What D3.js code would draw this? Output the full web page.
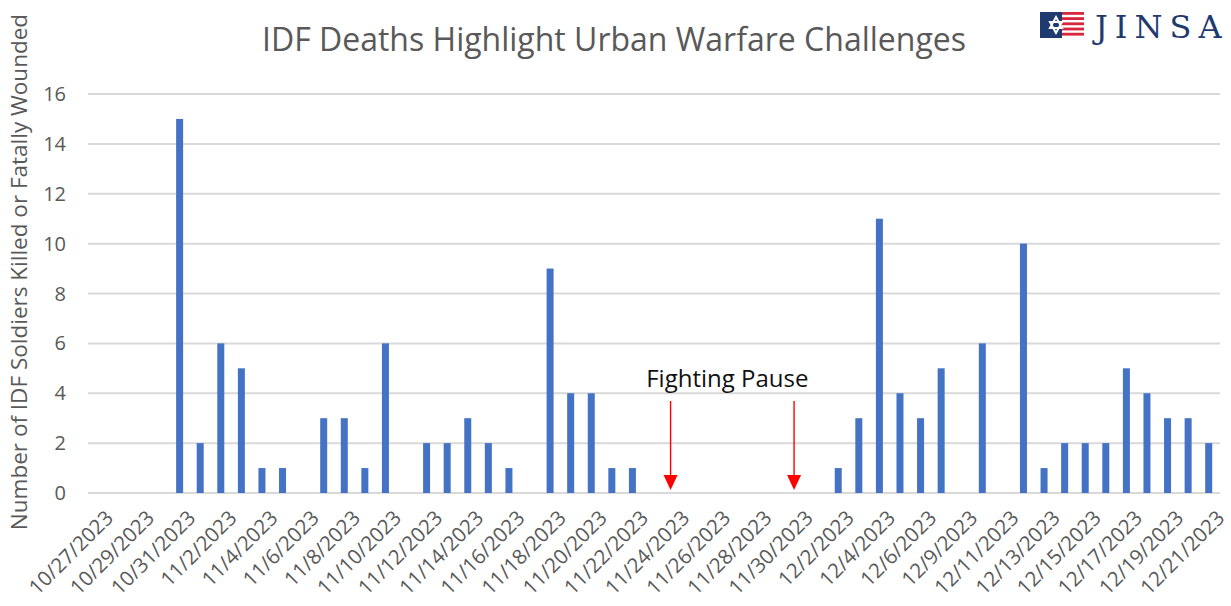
<!DOCTYPE html>
<html>
<head>
<meta charset="utf-8">
<script src="https://cdn.jsdelivr.net/npm/d3@7"></script>
<style>
  body { margin: 0; background: #fff; }
  text { font-family: "Open Sans", "Noto Sans", sans-serif; }
</style>
</head>
<body>
<div id="chart"></div>
<script>
// categories (one date missing between 12/6 and 12/9, as in the source axis)
var dates = ["10/27/2023","10/28/2023","10/29/2023","10/30/2023","10/31/2023","11/1/2023","11/2/2023","11/3/2023",
  "11/4/2023","11/5/2023","11/6/2023","11/7/2023","11/8/2023","11/9/2023","11/10/2023","11/11/2023",
  "11/12/2023","11/13/2023","11/14/2023","11/15/2023","11/16/2023","11/17/2023","11/18/2023","11/19/2023",
  "11/20/2023","11/21/2023","11/22/2023","11/23/2023","11/24/2023","11/25/2023","11/26/2023","11/27/2023",
  "11/28/2023","11/29/2023","11/30/2023","12/1/2023","12/2/2023","12/3/2023","12/4/2023","12/5/2023",
  "12/6/2023","12/8/2023","12/9/2023","12/10/2023","12/11/2023","12/12/2023","12/13/2023","12/14/2023",
  "12/15/2023","12/16/2023","12/17/2023","12/18/2023","12/19/2023","12/20/2023","12/21/2023"];
var deaths = [0,0,0,0,15,2,6,5, 1,1,0,3,3,1,6,0, 2,2,3,2,1,0,9,4, 4,1,1,0,0,0,0,0,
  0,0,0,0,1,3,11,4, 3,5,0,6,0,10,1,2, 2,2,5,4,3,3,2];
var yTicks = [0,2,4,6,8,10,12,14,16];
var pauseDates = ["11/24/2023","11/30/2023"];

var W = 1231, H = 606;
var mLeft = 88, mRight = 1220, mTop = 94, mBottom = 493;

var svg = d3.select("#chart").append("svg")
  .attr("width", W)
  .attr("height", H);

var x = d3.scaleBand().domain(dates).range([mLeft, mRight]);
var y = d3.scaleLinear().domain([0, 16]).range([mBottom, mTop]);

// gridlines
svg.append("g").selectAll("line")
  .data(yTicks)
  .enter().append("line")
  .attr("x1", mLeft).attr("x2", mRight)
  .attr("y1", function(d){ return y(d); })
  .attr("y2", function(d){ return y(d); })
  .style("stroke", "#d9d9d9")
  .style("stroke-width", 2);

// y tick labels
svg.append("g").selectAll("text")
  .data(yTicks)
  .enter().append("text")
  .attr("x", 66)
  .attr("y", function(d){ return y(d) + 7; })
  .attr("text-anchor", "end")
  .attr("font-size", 20)
  .style("fill", "#595959")
  .text(function(d){ return d; });

// bars
var bw = 7;
svg.append("g").selectAll("rect")
  .data(dates.map(function(d, i){ return { date: d, v: deaths[i] }; }).filter(function(d){ return d.v > 0; }))
  .enter().append("rect")
  .attr("x", function(d){ return x(d.date) + x.bandwidth() / 2 - bw / 2 - 1; })
  .attr("y", function(d){ return y(d.v); })
  .attr("width", bw)
  .attr("height", function(d){ return y(0) - y(d.v); })
  .style("fill", "#4472c4");

// x labels, every other category
svg.append("g").selectAll("text")
  .data(dates.filter(function(d, i){ return i % 2 == 0; }))
  .enter().append("text")
  .attr("transform", function(d){
    var cx = x(d) + x.bandwidth() / 2 + 6;
    return "translate(" + cx + "," + 509 + ") rotate(-45)";
  })
  .attr("text-anchor", "end")
  .attr("dy", "0.7em")
  .attr("font-size", 20.5)
  .style("fill", "#595959")
  .text(function(d){ return d; });

// y axis title
svg.append("text")
  .attr("transform", "translate(27," + 272 + ") rotate(-90)")
  .attr("text-anchor", "middle")
  .attr("font-size", 22.5)
  .style("fill", "#595959")
  .text("Number of IDF Soldiers Killed or Fatally Wounded");

// title
svg.append("text")
  .attr("x", 614)
  .attr("y", 51)
  .attr("text-anchor", "middle")
  .attr("font-size", 32)
  .style("fill", "#595959")
  .text("IDF Deaths Highlight Urban Warfare Challenges");

// fighting pause annotation
var mid = d3.mean(pauseDates, function(d){ return x(d) + x.bandwidth() / 2; });
svg.append("text")
  .attr("x", mid - 9)
  .attr("y", 387)
  .attr("text-anchor", "middle")
  .attr("font-size", 24)
  .style("fill", "#111")
  .text("Fighting Pause");

var arrows = svg.append("g").selectAll("g")
  .data(pauseDates)
  .enter().append("g")
  .attr("transform", function(d){ return "translate(" + (x(d) + x.bandwidth() / 2 - 4) + ",0)"; });
arrows.append("line")
  .attr("x1", 0).attr("x2", 0)
  .attr("y1", 401).attr("y2", 477)
  .style("stroke", "#ff0000")
  .style("stroke-width", 1.4);
arrows.append("path")
  .attr("d", "M-7,475 L7,475 L0,490 Z")
  .style("fill", "#ff0000");

// JINSA logo
var logo = svg.append("g").attr("transform", "translate(1040,12)");
logo.append("rect").attr("x", 0).attr("y", 0).attr("width", 22).attr("height", 26).style("fill", "#1f3a6e");
[0, 1, 2, 3, 4].forEach(function(i){
  logo.append("rect")
    .attr("x", 22).attr("y", i * 5.2).attr("width", 22).attr("height", 2.8)
    .style("fill", "#d7263d");
});
logo.append("path")
  .attr("d", "M16,5 L22,16 L10,16 Z M16,21 L10,10 L22,10 Z")
  .style("fill", "none").style("stroke", "#fff").style("stroke-width", 2);
logo.append("text")
  .attr("x", 55).attr("y", 26)
  .attr("font-size", 32)
  .style("font-family", "'DejaVu Serif', 'Liberation Serif', serif")
  .style("letter-spacing", "7px")
  .style("fill", "#1f3a6e")
  .text("JINSA");
</script>
</body>
</html>
